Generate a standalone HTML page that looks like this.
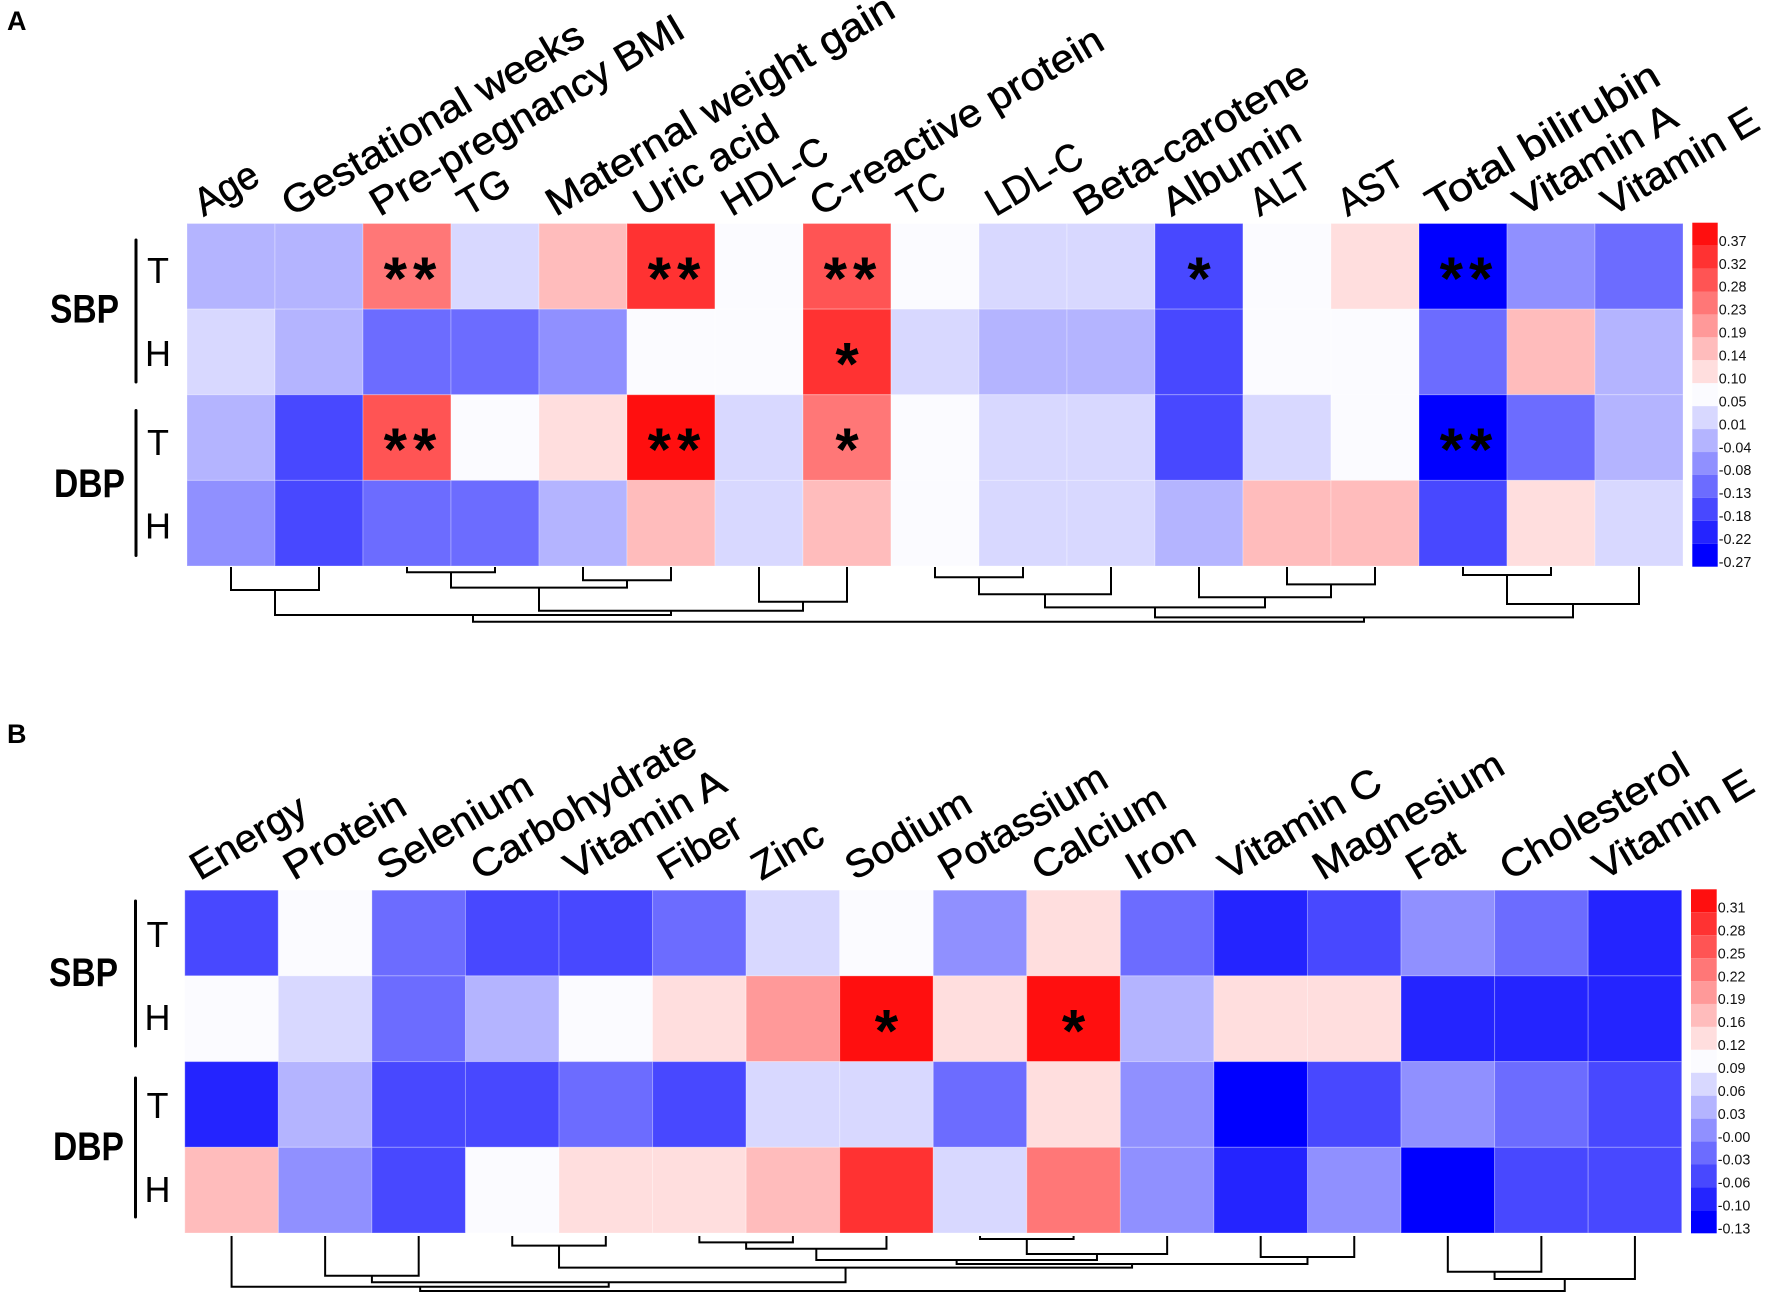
<!DOCTYPE html>
<html lang="en">
<head>
<meta charset="utf-8">
<title>Correlation heatmaps with SBP and DBP</title>
<style>
html,body{margin:0;padding:0;background:#fff;width:1772px;height:1298px;overflow:hidden}
svg{display:block;font-family:"Liberation Sans",Arial,sans-serif}
</style>
</head>
<body>
<svg id="figure" xmlns="http://www.w3.org/2000/svg" width="1772" height="1298" viewBox="0 0 1772 1298">
<rect x="0" y="0" width="1772" height="1298" fill="#fff"/>
<text x="7" y="30" font-size="27" font-weight="bold">A</text>
<text x="7" y="743" font-size="27" font-weight="bold">B</text>

<g>
<text transform="translate(50,322.5) scale(.84,1)" font-size="40" font-weight="bold">SBP</text>
<text transform="translate(54,497) scale(.84,1)" font-size="40" font-weight="bold">DBP</text>
<rect x="134.5" y="238.5" width="3" height="145" rx="1.5"/>
<rect x="134.5" y="409" width="3" height="148" rx="1.5"/>
<text x="158" y="283" font-size="36" text-anchor="middle">T</text>
<text x="158" y="366" font-size="36" text-anchor="middle">H</text>
<text x="158" y="455" font-size="36" text-anchor="middle">T</text>
<text x="158" y="538.5" font-size="36" text-anchor="middle">H</text>
</g>
<g>
<text transform="translate(49,986) scale(.84,1)" font-size="40" font-weight="bold">SBP</text>
<text transform="translate(53,1160) scale(.84,1)" font-size="40" font-weight="bold">DBP</text>
<rect x="134" y="899.5" width="3" height="148" rx="1.5"/>
<rect x="134" y="1076.5" width="3" height="142" rx="1.5"/>
<text x="157.5" y="947" font-size="36" text-anchor="middle">T</text>
<text x="157.5" y="1030" font-size="36" text-anchor="middle">H</text>
<text x="157.5" y="1118" font-size="36" text-anchor="middle">T</text>
<text x="157.5" y="1202" font-size="36" text-anchor="middle">H</text>
</g>
</svg>

<script>
/* ---------- Panel A data ---------- */
const categoriesA = ["Age","Gestational weeks","Pre-pregnancy BMI","TG","Maternal weight gain","Uric acid","HDL-C","C-reactive protein","TC","LDL-C","Beta-carotene","Albumin","ALT","AST","Total bilirubin","Vitamin A","Vitamin E"];
const sbpTA = [-0.04,-0.04,0.23,0.01,0.14,0.32,0.05,0.28,0.05,0.01,0.01,-0.18,0.05,0.10,-0.27,-0.08,-0.13];
const sbpHA = [0.01,-0.04,-0.13,-0.13,-0.08,0.05,0.05,0.32,0.01,-0.04,-0.04,-0.18,0.05,0.05,-0.13,0.14,-0.04];
const dbpTA = [-0.04,-0.18,0.28,0.05,0.10,0.37,0.01,0.23,0.05,0.01,0.01,-0.18,0.01,0.05,-0.27,-0.13,-0.04];
const dbpHA = [-0.08,-0.18,-0.13,-0.13,-0.04,0.14,0.01,0.14,0.05,0.01,0.01,-0.04,0.14,0.14,-0.18,0.10,0.01];
const legendTicksA = [0.37,0.32,0.28,0.23,0.19,0.14,0.10,0.05,0.01,-0.04,-0.08,-0.13,-0.18,-0.22,-0.27];
/* significance: [row, column, marker] */
const significanceA = [[0,2,"**"],[0,5,"**"],[0,7,"**"],[1,7,"*"],[2,2,"**"],[2,5,"**"],[2,7,"*"],[0,11,"*"],[0,14,"**"],[2,14,"**"]];
/* merges: [left, right, distance]; number = leaf column, "mN" = earlier merge */
const mergesA = [[2,3,.096],[14,15,.145],[8,9,.187],[4,5,.242],[12,13,.315],["m0","m3",.376],[0,1,.418],["m2",10,.496],[11,"m4",.551],[6,7,.631],["m1",16,.673],["m7","m8",.733],["m5","m9",.795],["m6","m12",.873],["m11","m10",.915],["m13","m14",.995]];

/* ---------- Panel B data ---------- */
const categoriesB = ["Energy","Protein","Selenium","Carbohydrate","Vitamin A","Fiber","Zinc","Sodium","Potassium","Calcium","Iron","Vitamin C","Magnesium","Fat","Cholesterol","Vitamin E"];
const sbpTB = [-0.06,0.09,-0.03,-0.06,-0.06,-0.03,0.06,0.09,0.00,0.12,-0.03,-0.10,-0.06,0.00,-0.03,-0.10];
const sbpHB = [0.09,0.06,-0.03,0.03,0.09,0.12,0.19,0.31,0.12,0.31,0.03,0.12,0.12,-0.10,-0.10,-0.10];
const dbpTB = [-0.10,0.03,-0.06,-0.06,-0.03,-0.06,0.06,0.06,-0.03,0.12,0.00,-0.13,-0.06,0.00,-0.03,-0.06];
const dbpHB = [0.16,0.00,-0.06,0.09,0.12,0.12,0.16,0.28,0.06,0.22,0.00,-0.10,0.00,-0.13,-0.06,-0.06];
const legendTicksB = ["0.31","0.28","0.25","0.22","0.19","0.16","0.12","0.09","0.06","0.03","-0.00","-0.03","-0.06","-0.10","-0.13"];
const significanceB = [[1,7,"*"],[1,9,"*"]];
const mergesB = [[8,9,.055],[5,6,.115],[3,4,.176],["m1",7,.231],["m0",10,.327],[11,12,.382],["m3","m4",.436],["m6","m5",.509],["m2","m7",.576],[13,14,.649],[1,2,.722],["m9",15,.782],["m10","m8",.842],[0,"m12",.922],["m13","m11",1.0]];

const rowKeys = ["sbp-t","sbp-h","dbp-t","dbp-h"];
const SVGNS = "http://www.w3.org/2000/svg";
const figure = document.getElementById("figure");

/* glyph-width correction so the substitute font matches each label's length */
function labelFit(panelId, c) {
  const fitA = [.87,.957,.946,.875,.98,.94,.865,.963,.81,.83,.963,.97,.83,.81,1.03,.987,.935];
  const fitB = [.92,.966,.946,.957,.974,.906,.92,.935,.92,.93,.97,.955,.945,.93,.955,.955];
  return (panelId === "panel-a" ? fitA : fitB)[c] || 1;
}

function make(tag, parent, attrs) {
  const node = document.createElementNS(SVGNS, tag);
  for (const k in attrs) node.setAttribute(k, attrs[k]);
  parent.appendChild(node);
  return node;
}

/* colour ramp: 15 steps, blue -> near-white -> red */
function binColor(i) {
  if (i < 7) { const c = Math.round(i * 36); return `rgb(${c},${c},255)`; }
  if (i === 7) return "rgb(251,251,255)";
  const c = Math.round(222 - (i - 8) * 34.5);
  return `rgb(255,${c},${c})`;
}

function drawPanel(p) {
  const nCols = p.categories.length, nRows = p.rows.length;
  const colW = (p.right - p.left) / nCols, rowH = (p.bottom - p.top) / nRows;
  const x = c => p.left + c * colW;
  const y = r => p.top + r * rowH;
  const ticksNum = p.ticks.map(Number);
  const vMax = Math.max(...ticksNum), vMin = Math.min(...ticksNum);
  const toBin = v => Math.max(0, Math.min(14, Math.round((v - vMin) / (vMax - vMin) * 14)));

  const panel = make("g", figure, {});
  
  

  /* heatmap cells */
  const cells = make("g", panel, {});
  
  
  p.rows.forEach((vals, r) => {
    vals.forEach((v, c) => {
      const cell = make("rect", cells, {x:x(c), y:y(r), width:colW, height:rowH, fill:binColor(toBin(v)), stroke:"rgba(255,255,255,.28)", "stroke-width":1});
      
      
    });
  });

  /* column labels */
  const labels = make("g", panel, {});
  
  
  p.categories.forEach((name, c) => {
    const t = make("text", labels, {
      transform:`translate(${x(c) + p.labelDx},${p.labelY}) rotate(-30.5) scale(${(p.labelScale * labelFit(p.id, c)).toFixed(3)},1)`,
      "font-size":p.labelSize, fill:"#000", stroke:"#000", "stroke-width":.55
    });
    t.textContent = name;
    
    
  });

  /* significance markers */
  const stars = make("g", panel, {});
  
  
  p.significance.forEach(s => {
    const t = make("text", stars, {
      x:x(s[1]) + colW / 2 + (s[2].length > 1 ? 6 : 0), y:y(s[0]) + rowH / 2 + 32.5,
      "font-size":60, "font-weight":"bold", "text-anchor":"middle", "letter-spacing":s[2].length > 1 ? 6 : 0
    });
    t.textContent = s[2];
    
    
  });

  /* dendrogram */
  const dendro = make("g", panel, {fill:"none", stroke:"#000", "stroke-width":2});
  
  
  const dY = d => p.dendroTop + d * p.dendroScale;
  const placed = [];
  const resolve = n => typeof n === "number"
    ? {x: x(n) + colW / 2, y: p.dendroTop}
    : placed[+n.slice(1)];
  p.merges.forEach(m => {
    const a = resolve(m[0]), b = resolve(m[1]), h = dY(m[2]);
    const link = make("path", dendro, {d:`M${a.x} ${a.y}V${h}H${b.x}V${b.y}`});
    
    
    placed.push({x:(a.x + b.x) / 2, y:h});
  });

  /* colour legend */
  const legend = make("g", panel, {});
  
  
  const binH = (p.legendBottom - p.legendTop) / p.ticks.length;
  p.ticks.forEach((tick, i) => {
    const top = p.legendTop + i * binH;
    const swatch = make("rect", legend, {x:p.legendX, y:top, width:p.legendW, height:binH, fill:binColor(p.ticks.length - 1 - i)});
    
    
    const label = make("text", legend, {x:p.legendX + p.legendW + 1, y:top + binH / 2 + 11.7, "font-size":14.3, fill:"#111"});
    label.textContent = typeof tick === "number" ? tick.toFixed(2) : tick;
    
    
  });
}

drawPanel({
  id:"panel-a", categories:categoriesA, rows:[sbpTA,sbpHA,dbpTA,dbpHA], ticks:legendTicksA,
  significance:significanceA, merges:mergesA,
  left:187, right:1683, top:223.5, bottom:566,
  labelDx:16.5, labelY:217, labelSize:39, labelScale:1.125,
  dendroTop:567, dendroScale:55,
  legendX:1692.3, legendW:25.4, legendTop:222.7, legendBottom:566.7
});
drawPanel({
  id:"panel-b", categories:categoriesB, rows:[sbpTB,sbpHB,dbpTB,dbpHB], ticks:legendTicksB,
  significance:significanceB, merges:mergesB,
  left:184.8, right:1681.7, top:890.2, bottom:1233,
  labelDx:15, labelY:881, labelSize:39, labelScale:1.125,
  dendroTop:1236, dendroScale:55,
  legendX:1691, legendW:25.7, legendTop:889.3, legendBottom:1233.3
});
</script>
</body>
</html>
